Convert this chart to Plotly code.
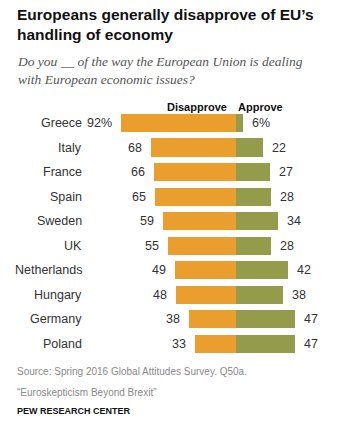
import plotly.graph_objects as go

countries = ["Greece", "Italy", "France", "Spain", "Sweden", "UK",
             "Netherlands", "Hungary", "Germany", "Poland"]
disapprove = [92, 68, 66, 65, 59, 55, 49, 48, 38, 33]
approve = [6, 22, 27, 28, 34, 28, 42, 38, 47, 47]

ORANGE = "#EA9E2E"
GREEN = "#949B4A"

W, H = 339, 426
zero_px = 236
ppu = 1.245
x_left = -zero_px / ppu
x_right = (W - zero_px) / ppu
row0_px = 123
pitch = 24.55
y_top = -row0_px / pitch
y_bot = (H - row0_px) / pitch

fig = go.Figure()
fig.add_trace(go.Bar(y=countries, x=[-v for v in disapprove], orientation="h",
                     marker=dict(color=ORANGE, line=dict(width=0)), width=0.74,
                     hoverinfo="skip"))
fig.add_trace(go.Bar(y=countries, x=approve, orientation="h",
                     marker=dict(color=GREEN, line=dict(width=0)), width=0.74,
                     hoverinfo="skip"))

ann = []
numfont = dict(family="Liberation Sans, Arial, sans-serif", size=12.5, color="#333333")
for i, (c, d, a) in enumerate(zip(countries, disapprove, approve)):
    ann.append(dict(x=-d, y=c, xref="x", yref="y", text=f"{d}%" if i == 0 else str(d),
                    xanchor="right", xshift=-7, showarrow=False, font=numfont))
    ann.append(dict(x=a, y=c, xref="x", yref="y", text=f"{a}%" if i == 0 else str(a),
                    xanchor="left", xshift=7, showarrow=False, font=numfont))
    ann.append(dict(x=84 / W, y=c, xref="paper", yref="y", text=c,
                    xanchor="right", showarrow=False, font=numfont))

hdr = dict(family="Liberation Sans, Arial, sans-serif", size=11, color="#111111")
ann.append(dict(x=-31, y=-0.67, xref="x", yref="y", text="<b>Disapprove</b>",
                xanchor="center", showarrow=False, font=hdr))
ann.append(dict(x=20, y=-0.67, xref="x", yref="y", text="<b>Approve</b>",
                xanchor="center", showarrow=False, font=hdr))

title_font = dict(family="Liberation Sans, Arial, sans-serif", size=15.5, color="#111111")
ann.append(dict(x=15 / W, y=1 - 4 / H, xref="paper", yref="paper", xanchor="left", yanchor="top",
                text="<b>Europeans generally disapprove of EU’s<br>handling of economy</b>",
                align="left", showarrow=False, font=title_font))
ann.append(dict(x=15 / W, y=1 - 52 / H, xref="paper", yref="paper", xanchor="left", yanchor="top",
                text="<i>Do you __ of the way the European Union is dealing<br>with European economic issues?</i>",
                align="left", showarrow=False,
                font=dict(family="Liberation Serif, Georgia, serif", size=13.5, color="#555555")))
small = dict(family="Liberation Sans, Arial, sans-serif", size=10, color="#8a8a8a")
ann.append(dict(x=15 / W, y=1 - 371 / H, xref="paper", yref="paper", xanchor="left", yanchor="middle",
                text="Source: Spring 2016 Global Attitudes Survey. Q50a.",
                showarrow=False, font=small))
ann.append(dict(x=15 / W, y=1 - 392 / H, xref="paper", yref="paper", xanchor="left", yanchor="middle",
                text="“Euroskepticism Beyond Brexit”", showarrow=False, font=small))
ann.append(dict(x=15 / W, y=1 - 411 / H, xref="paper", yref="paper", xanchor="left", yanchor="middle",
                text="<b>PEW RESEARCH CENTER</b>", showarrow=False,
                font=dict(family="Liberation Sans, Arial, sans-serif", size=9, color="#111111")))

fig.update_layout(
    width=W, height=H, margin=dict(l=0, r=0, t=0, b=0),
    paper_bgcolor="white", plot_bgcolor="white",
    barmode="relative", showlegend=False, bargap=0,
    xaxis=dict(range=[x_left, x_right], visible=False, fixedrange=True),
    yaxis=dict(range=[y_bot, y_top], visible=False, fixedrange=True,
               categoryorder="array", categoryarray=countries),
    annotations=ann,
)

fig.write_html("out.html")
